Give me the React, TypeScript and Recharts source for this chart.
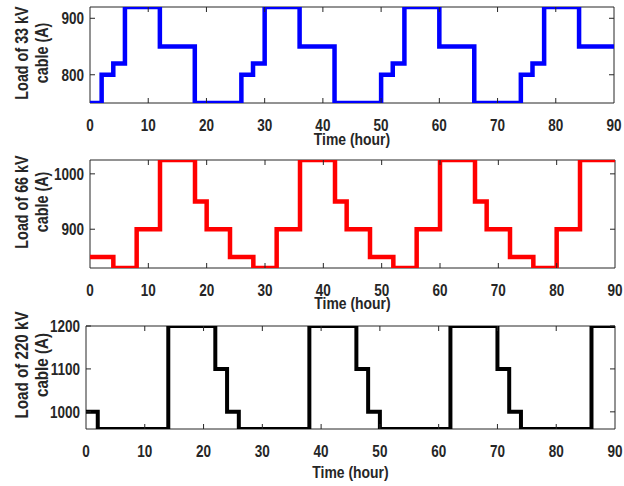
import { LineChart, Line, XAxis, YAxis, ReferenceArea } from 'recharts';

const hours = [0, 10, 20, 30, 40, 50, 60, 70, 80, 90];

const t33 = [0, 2, 4, 6, 12, 18, 26, 28, 30, 36, 42, 50, 52, 54, 60, 66, 74, 76, 78, 84, 90];
const load33 = [750, 800, 820, 920, 850, 750, 800, 820, 920, 850, 750, 800, 820, 920, 850, 750, 800, 820, 920, 850, 850];

const t66 = [0, 4, 8, 12, 18, 20, 24, 28, 32, 36, 42, 44, 48, 52, 56, 60, 66, 68, 72, 76, 80, 84, 90];
const load66 = [850, 830, 900, 1025, 950, 900, 850, 830, 900, 1025, 950, 900, 850, 830, 900, 1025, 950, 900, 850, 830, 900, 1025, 1025];

const t220 = [0, 2, 14, 22, 24, 26, 38, 46, 48, 50, 62, 70, 72, 74, 86, 90];
const load220 = [1000, 960, 1200, 1100, 1000, 960, 1200, 1100, 1000, 960, 1200, 1100, 1000, 960, 1200, 1200];

const FONT = "'Liberation Sans', Arial, sans-serif";
const INK = '#262626';
const W = 624;
const SQUEEZE = 0.82;

// narrow bold text, squeezed along its own baseline
function NText({ x, y, rotate = 0, size, anchor, children }: any) {
  return (
    <text
      x={0}
      y={0}
      transform={`translate(${x} ${y}) rotate(${rotate}) scale(${SQUEEZE} 1)`}
      textAnchor={anchor}
      fontFamily={FONT}
      fontWeight="bold"
      fontSize={size}
      fill={INK}
    >
      {children}
    </text>
  );
}

type PanelProps = {
  top: number;
  height: number;
  mTop: number;
  mRight: number;
  yWidth: number;
  xHeight: number;
  times: number[];
  values: number[];
  domain: [number, number];
  yTicks: number[];
  color: string;
  strokeWidth: number;
  label: string;
  labelY: number;
  labelSize: number;
  titleGap: number;
};

function Panel(p: PanelProps) {
  const data = p.times.map((t, i) => ({ t, v: p.values[i] }));
  const plotTop = p.mTop;
  const plotBottom = p.height - p.xHeight;
  const plotLeft = p.yWidth;
  const plotRight = W - p.mRight;

  const XTick = (props: any) => {
    const { x, payload } = props;
    const edge = payload.value === 0 || payload.value === 90;
    return (
      <g>
        {!edge && <line x1={x} x2={x} y1={plotBottom} y2={plotBottom - 5} stroke={INK} />}
        {!edge && <line x1={x} x2={x} y1={plotTop} y2={plotTop + 5} stroke={INK} />}
        <NText x={x} y={plotBottom + 28} size={16.5} anchor="middle">
          {payload.value}
        </NText>
      </g>
    );
  };

  const YTick = (props: any) => {
    const { y, payload } = props;
    return (
      <g>
        <line x1={plotLeft} x2={plotLeft + 5} y1={y} y2={y} stroke={INK} />
        <line x1={plotRight} x2={plotRight - 5} y1={y} y2={y} stroke={INK} />
        <NText x={plotLeft - 6} y={y + 6} size={16.5} anchor="end">
          {payload.value}
        </NText>
      </g>
    );
  };

  const yLabel = () => (
    <g>
      <NText x={28} y={p.labelY} rotate={-90} size={p.labelSize} anchor="middle">
        {p.label}
      </NText>
      <NText x={48} y={p.labelY} rotate={-90} size={p.labelSize} anchor="middle">
        cable (A)
      </NText>
    </g>
  );

  const xLabel = () => (
    <NText x={(plotLeft + plotRight) / 2} y={plotBottom + p.titleGap} size={17} anchor="middle">
      Time (hour)
    </NText>
  );

  return (
    <div style={{ position: 'absolute', left: 0, top: p.top }}>
      <LineChart width={W} height={p.height} data={data} margin={{ top: p.mTop, right: p.mRight, left: 0, bottom: 0 }}>
        <XAxis
          dataKey="t"
          type="number"
          domain={[0, 90]}
          ticks={hours}
          height={p.xHeight}
          axisLine={false}
          tickLine={false}
          tickSize={0}
          tickMargin={0}
          tick={XTick}
          label={{ content: xLabel }}
        />
        <YAxis
          type="number"
          domain={p.domain}
          ticks={p.yTicks}
          width={p.yWidth}
          axisLine={false}
          tickLine={false}
          tickSize={0}
          tickMargin={0}
          tick={YTick}
          allowDataOverflow
          label={{ content: yLabel }}
        />
        <ReferenceArea x1={0} x2={90} y1={p.domain[0]} y2={p.domain[1]} fill="none" stroke={INK} strokeWidth={1} />
        <Line
          dataKey="v"
          type="stepAfter"
          stroke={p.color}
          strokeWidth={p.strokeWidth}
          dot={false}
          isAnimationActive={false}
        />
      </LineChart>
    </div>
  );
}

export default function App() {
  return (
    <div style={{ position: 'absolute', left: 0, top: 0, width: W, height: 486, background: '#fff' }}>
      <Panel
        top={0}
        height={152}
        mTop={7}
        mRight={10}
        yWidth={90}
        xHeight={49}
        times={t33}
        values={load33}
        domain={[750, 920]}
        yTicks={[800, 900]}
        color="#0000ff"
        strokeWidth={4.5}
        label="Load of 33 kV"
        labelY={53}
        labelSize={17.5}
        titleGap={42}
      />
      <Panel
        top={152}
        height={165}
        mTop={8}
        mRight={9}
        yWidth={90}
        xHeight={49}
        times={t66}
        values={load66}
        domain={[830, 1025]}
        yTicks={[900, 1000]}
        color="#ff0000"
        strokeWidth={4.5}
        label="Load of 66 kV"
        labelY={50}
        labelSize={17.5}
        titleGap={41}
      />
      <Panel
        top={298}
        height={188}
        mTop={28}
        mRight={9}
        yWidth={86}
        xHeight={57}
        times={t220}
        values={load220}
        domain={[960, 1200]}
        yTicks={[1000, 1100, 1200]}
        color="#000000"
        strokeWidth={4}
        label="Load of 220 kV"
        labelY={67}
        labelSize={18.5}
        titleGap={49}
      />
    </div>
  );
}
